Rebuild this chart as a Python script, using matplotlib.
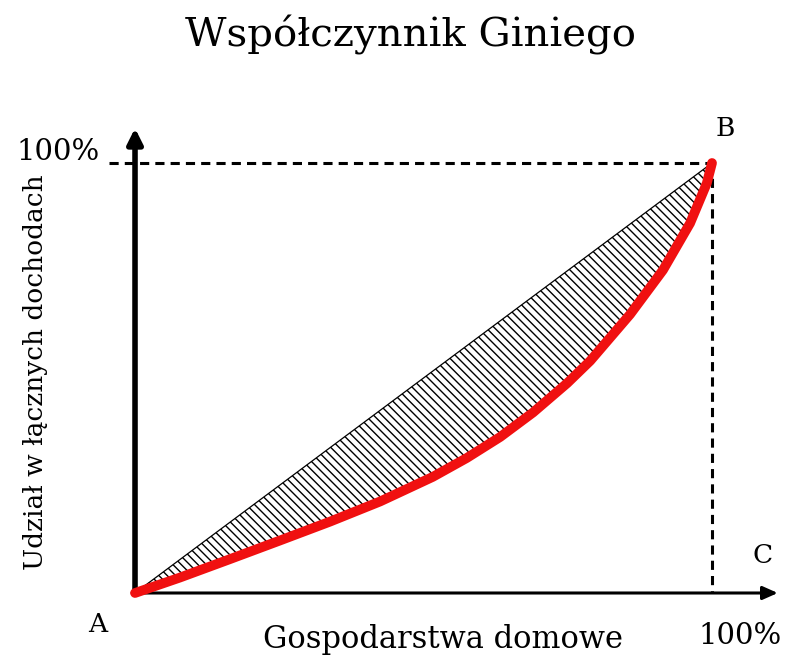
import matplotlib.pyplot as plt

# Lorenz curve (share of households vs share of income, %)
households = [0, 7.8, 16.5, 25.1, 33.8, 42.5, 51.6, 57.5, 63.3, 69.0, 74.9, 78.9, 85.8, 91.5, 96.2, 99.1, 100]
income = [0, 3.6, 7.9, 12.2, 16.6, 21.3, 27.0, 31.4, 36.3, 42.0, 48.8, 54.0, 64.8, 75.1, 86.0, 95.3, 100]
equality = [0, 100]

title = 'Współczynnik Giniego'
xlabel = 'Gospodarstwa domowe'
ylabel = 'Udział w łącznych dochodach'

plt.rcParams['font.family'] = ['DejaVu Serif']
plt.rcParams['hatch.linewidth'] = 1.0

fig = plt.figure(figsize=(7.97, 6.63), dpi=100)
ax = fig.add_axes([0, 0, 1, 1])
ax.set_xlim(-23.40, 114.73)
ax.set_ylim(-16.28, 137.91)
ax.axis('off')

# hatched area between equality line and Lorenz curve
ax.fill_between(households, households, income, facecolor='white',
                edgecolor='black', hatch='\\\\\\\\', linewidth=0)
ax.plot(equality, equality, color='black', lw=0.9)

# dashed guides
ax.plot([-4.5, 100], [100, 100], color='black', lw=2.2, ls=(0, (3, 2)))
ax.plot([100, 100], [100, 0], color='black', lw=2.2, ls=(0, (3, 2)))

# axes with arrows
ax.annotate('', xy=(0, 108.1), xytext=(0, 0),
            arrowprops=dict(arrowstyle='-|>,head_length=0.9,head_width=0.45',
                            lw=4, color='black', shrinkA=0, shrinkB=0))
ax.annotate('', xy=(111.4, 0), xytext=(-0.5, 0),
            arrowprops=dict(arrowstyle='-|>,head_length=0.9,head_width=0.4',
                            lw=2.2, color='black', shrinkA=0, shrinkB=0))

# Lorenz curve
ax.plot(households, income, color='#f01010', lw=7, solid_capstyle='round',
        solid_joinstyle='round', zorder=5)

ax.text(47.7, 129.8, title, fontsize=29, ha='center', va='center')
ax.text(-17.3, 51.4, ylabel, fontsize=19, rotation=90, ha='center', va='center')
ax.text(53.4, -10.9, xlabel, fontsize=22, ha='center', va='center')
ax.text(-13.3, 102.6, '100%', fontsize=21, ha='center', va='center')
ax.text(104.9, -10.0, '100%', fontsize=21, ha='center', va='center')
ax.text(-6.4, -7.4, 'A', fontsize=19, ha='center', va='center')
ax.text(102.3, 108.1, 'B', fontsize=19, ha='center', va='center')
ax.text(108.7, 8.8, 'C', fontsize=19, ha='center', va='center')

plt.savefig('out.png', dpi=100)
